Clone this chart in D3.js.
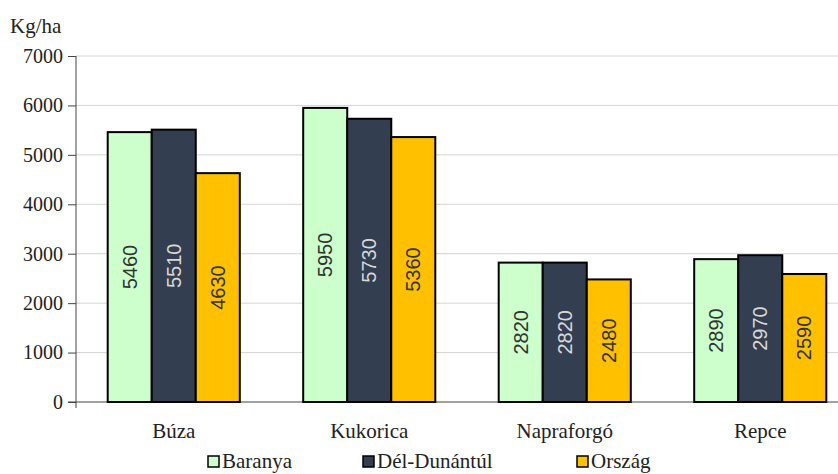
<!DOCTYPE html>
<html>
<head>
<meta charset="utf-8">
<script src="https://cdn.jsdelivr.net/npm/d3@7"></script>
<style>
  body { margin: 0; background: #fff; }
  svg text { font-family: "Liberation Serif", "DejaVu Serif", serif; }
  svg text.val { font-family: "Liberation Sans", "DejaVu Sans", sans-serif; }
</style>
</head>
<body>
<svg id="chart" width="838" height="474"></svg>
<script>
var categories = ['Búza', 'Kukorica', 'Napraforgó', 'Repce'];
var seriesNames = ['Baranya', 'Dél-Dunántúl', 'Ország'];
var baranya = [5460, 5950, 2820, 2890];
var delDunantul = [5510, 5730, 2820, 2970];
var orszag = [4630, 5360, 2480, 2590];
var yTicks = [0, 1000, 2000, 3000, 4000, 5000, 6000, 7000];

var colors = ['#ccffcc', '#333f50', '#ffc000'];
var labelColors = ['#333', '#d8d8d8', '#333'];
var seriesValues = [baranya, delDunantul, orszag];

var svg = d3.select('#chart');
var mLeft = 76, mTop = 56, mBottom = 402, mRight = 858;

var x = d3.scaleBand().domain(categories).range([mLeft, mRight]);
var xs = d3.scaleBand().domain(seriesNames).range([0, x.bandwidth()]).paddingOuter(0.72).paddingInner(0);
var y = d3.scaleLinear().domain([0, 7000]).range([mBottom, mTop]);

// gridlines
svg.append('g')
  .selectAll('line')
  .data(yTicks.slice(1))
  .enter()
  .append('line')
  .attr('x1', mLeft).attr('x2', 838)
  .attr('y1', d => y(d)).attr('y2', d => y(d))
  .attr('stroke', '#d4d4d4')
  .attr('stroke-width', 1);

// y axis
var yAxis = svg.append('g')
  .attr('transform', 'translate(' + mLeft + ',0)')
  .call(d3.axisLeft(y).tickValues(yTicks).tickSize(8).tickPadding(5).tickFormat(d3.format('d')));
yAxis.attr('font-family', null);
yAxis.select('.domain').remove();
yAxis.selectAll('.tick line').attr('stroke', '#444');
yAxis.selectAll('text')
  .style('font-family', '"Liberation Serif", serif')
  .attr('font-size', 20).attr('fill', '#222');
svg.append('line')
  .attr('x1', mLeft).attr('x2', mLeft).attr('y1', mTop).attr('y2', mBottom + 6)
  .attr('stroke', '#444');
svg.append('line')
  .attr('x1', mLeft - 8).attr('x2', 838).attr('y1', mBottom).attr('y2', mBottom)
  .attr('stroke', '#444');

// bars
var data = [];
categories.forEach(function(c, i) {
  seriesNames.forEach(function(s, j) {
    data.push({ cat: c, series: s, idx: j, value: seriesValues[j][i] });
  });
});

var groups = svg.append('g')
  .selectAll('g')
  .data(data)
  .enter()
  .append('g')
  .attr('transform', d => 'translate(' + (x(d.cat) + xs(d.series)) + ',0)');

groups.append('rect')
  .attr('x', 0)
  .attr('y', d => y(d.value))
  .attr('width', xs.bandwidth())
  .attr('height', d => mBottom - y(d.value))
  .attr('fill', d => colors[d.idx])
  .attr('stroke', '#000')
  .attr('stroke-width', 2);

groups.append('text')
  .attr('class', 'val')
  .attr('transform', d => 'translate(' + (xs.bandwidth() / 2) + ',' + ((y(d.value) + mBottom) / 2) + ') rotate(-90)')
  .attr('text-anchor', 'middle')
  .attr('dy', '0.35em')
  .attr('font-size', 20)
  .attr('fill', d => labelColors[d.idx])
  .text(d => d.value);

// category labels
svg.append('g')
  .selectAll('text')
  .data(categories)
  .enter()
  .append('text')
  .attr('x', d => x(d) + x.bandwidth() / 2)
  .attr('y', 438)
  .attr('text-anchor', 'middle')
  .attr('font-size', 21)
  .attr('fill', '#222')
  .text(d => d);

// y title
svg.append('text')
  .attr('x', 10).attr('y', 33)
  .attr('font-size', 21)
  .attr('fill', '#222')
  .text('Kg/ha');

// legend
var legendX = [208, 363, 577];
var legend = svg.append('g')
  .selectAll('g')
  .data(seriesNames)
  .enter()
  .append('g')
  .attr('transform', (d, i) => 'translate(' + legendX[i] + ',456)');
legend.append('rect')
  .attr('width', 11).attr('height', 11)
  .attr('fill', (d, i) => colors[i])
  .attr('stroke', '#000')
  .attr('stroke-width', 1.5);
legend.append('text')
  .attr('x', 14).attr('y', 12)
  .attr('font-size', 21)
  .attr('fill', '#222')
  .text(d => d);
</script>
</body>
</html>
